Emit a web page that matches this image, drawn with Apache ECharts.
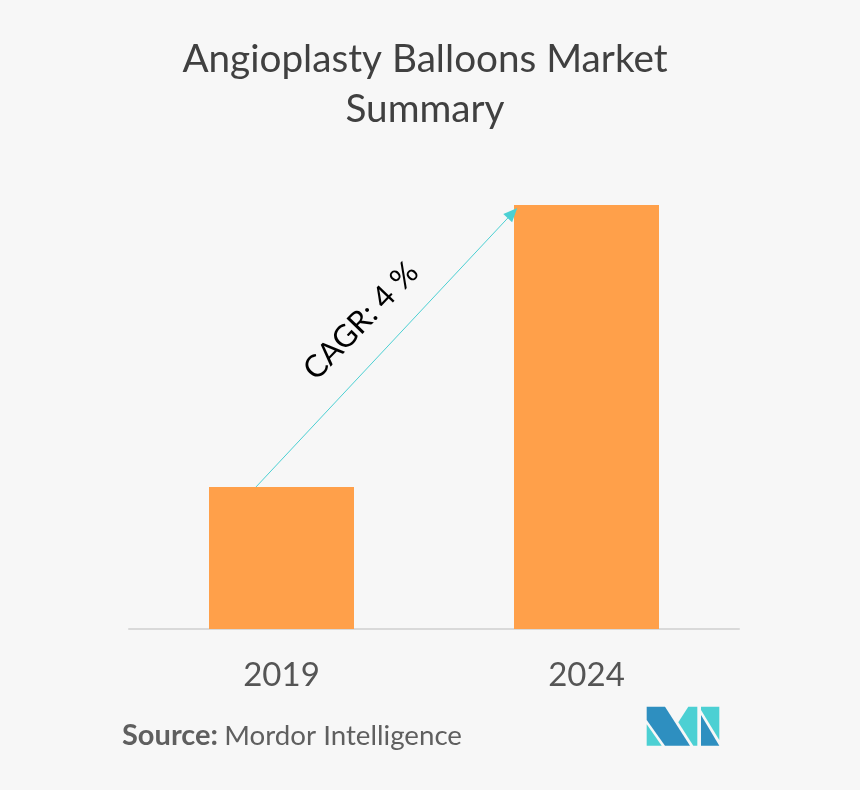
<!DOCTYPE html>
<html lang="en">

<head>
  <meta charset="UTF-8">
  <title>Angioplasty Balloons Market Summary</title>
  <style>
    html, body { margin: 0; padding: 0; background: #f7f7f7; }
  </style>
</head>

<body>
  <div id="main" style="width: 860px;height:790px;"></div>

  <script src="https://cdn.jsdelivr.net/npm/echarts@6/dist/echarts.min.js"></script>

  <script type="text/javascript">
    const titleText = 'Angioplasty Balloons Market\nSummary';
    const years = ['2019', '2024'];
    const marketSize = [33.5, 100];
    const cagrLabel = 'CAGR: 4 %';

    const fontName = 'Lato';
    const blue = '#2e8fc0';
    const teal = '#4cd0d3';

    var myChart = echarts.init(document.getElementById('main'));

    // logo pieces, in page pixels
    function logoPiece(points, color) {
      return { type: 'polygon', silent: true, shape: { points: points }, style: { fill: color } };
    }

    myChart.setOption({
      animation: false,
      backgroundColor: '#f7f7f7',
      textStyle: { fontFamily: fontName },
      title: {
        text: titleText,
        left: 420,
        top: 30,
        textAlign: 'center',
        textStyle: { fontFamily: fontName, fontSize: 38.7, fontWeight: 'normal', color: '#404040', lineHeight: 50 }
      },
      grid: { left: 129, right: 121, top: 205, height: 424 },
      xAxis: {
        type: 'category',
        data: years,
        axisTick: { show: false },
        axisLine: { lineStyle: { color: '#d9d9d9', width: 2 } },
        axisLabel: { color: '#555555', fontSize: 33, margin: 30, fontFamily: fontName }
      },
      yAxis: { type: 'value', min: 0, max: 100, show: false },
      series: [{
        type: 'bar',
        data: marketSize,
        barWidth: 145,
        itemStyle: { color: '#ffa04a' }
      }]
    });

    // arrow hangs off the bar tops, so work it out from the axes
    const from = myChart.convertToPixel({ seriesIndex: 0 }, [0, marketSize[0]]);
    const to = myChart.convertToPixel({ seriesIndex: 0 }, [1, marketSize[1]]);

    myChart.setOption({
      series: [{
        markLine: {
          silent: true,
          animation: false,
          symbol: ['none', 'triangle'],
          symbolSize: [12, 14],
          label: { show: false },
          lineStyle: { color: teal, width: 1, type: 'solid' },
          data: [[
            { x: from[0] - 25.5, y: from[1] },
            { x: to[0] - 74, y: to[1] + 8 }
          ]]
        }
      }],
      graphic: [
        {
          type: 'text',
          silent: true,
          x: 361,
          y: 321,
          rotation: 46 * Math.PI / 180,
          style: {
            text: cagrLabel,
            fontFamily: fontName,
            fontSize: 31,
            fill: '#000000',
            textAlign: 'center',
            textVerticalAlign: 'middle'
          }
        },
        {
          type: 'text',
          silent: true,
          x: 122,
          y: 736,
          style: {
            text: '{b|Source:} {r|Mordor Intelligence}',
            textVerticalAlign: 'middle',
            rich: {
              b: { fontFamily: fontName, fontSize: 29, fontWeight: 'bold', fill: '#5f5f5f' },
              r: { fontFamily: fontName, fontSize: 27.7, fill: '#5f5f5f', padding: [0, 0, 0, 3] }
            }
          }
        },
        logoPiece([[646.7, 706.7], [665, 706.7], [690, 745.7], [665, 745.7], [646.7, 720]], blue),
        logoPiece([[646.7, 724.3], [661.7, 745.7], [646.7, 745.7]], teal),
        logoPiece([[688.3, 706.7], [697.3, 706.7], [697.3, 745.7], [693.3, 745.7], [678.3, 722.3]], teal),
        logoPiece([[701, 706.7], [719.3, 706.7], [719.3, 740], [701, 710]], teal),
        logoPiece([[701, 715], [719.3, 745.7], [701, 745.7]], blue)
      ]
    });
  </script>
</body>

</html>
